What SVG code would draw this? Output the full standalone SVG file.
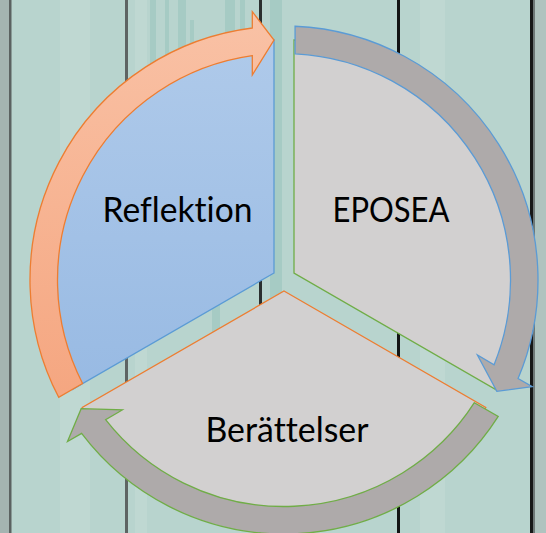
<svg xmlns="http://www.w3.org/2000/svg" width="546" height="533" viewBox="0 0 546 533">
  <defs>
    <linearGradient id="gBlue" x1="0" y1="40" x2="0" y2="390" gradientUnits="userSpaceOnUse">
      <stop offset="0" stop-color="#AFCAEA"/>
      <stop offset="1" stop-color="#98BAE3"/>
    </linearGradient>
    <linearGradient id="gOrange" x1="0" y1="10" x2="0" y2="400" gradientUnits="userSpaceOnUse">
      <stop offset="0" stop-color="#F9C2A6"/>
      <stop offset="1" stop-color="#F5A680"/>
    </linearGradient>
    <path id="arrowShape" d="M 82.55 383.5 L 58.7 397.3 A 254 254 0 0 1 252.3 28 L 252.3 11.7 L 274 40 L 252.3 75 L 252.3 55.7 A 226.5 226.5 0 0 0 82.55 383.5 Z"/>
  </defs>
  <style>
    .plank { fill: #B8D4CE; }
    .gap { fill: #2b2f2f; }
    .streak { fill: #6FAEA8; opacity: 0.25; }
    .lightstreak { fill: #D2E4E0; opacity: 0.25; }
    .sector { stroke-width: 1.3; stroke-linejoin: miter; }
    .arrow { stroke-width: 1.3; stroke-linejoin: miter; }
    .label { font-family: Lato, "Open Sans", "Liberation Sans", sans-serif; font-size: 34px; fill: #000000; text-anchor: middle; font-variant-ligatures: none; }
  </style>

  <g id="background">
    <rect x="0" y="0" width="546" height="533" class="plank"/>
    <rect x="0" y="0" width="9" height="533" fill="#A4B4B1"/>
    <rect x="533" y="0" width="13" height="533" fill="#AFC3BF"/>
    <rect x="135" y="0" width="12" height="533" class="lightstreak"/>
    <rect x="150" y="0" width="6" height="110" class="streak"/>
    <rect x="165" y="0" width="4" height="80" class="streak"/>
    <rect x="178" y="0" width="8" height="130" class="streak"/>
    <rect x="190" y="20" width="4" height="70" class="streak"/>
    <rect x="225" y="0" width="10" height="90" class="streak"/>
    <rect x="240" y="0" width="5" height="60" class="streak"/>
    <rect x="212" y="280" width="8" height="100" class="streak"/>
    <rect x="270" y="0" width="12" height="533" class="streak" opacity="0.15"/>
    <rect x="60" y="0" width="30" height="533" class="lightstreak"/>
    <rect x="420" y="0" width="25" height="533" class="lightstreak"/>
    <rect x="9" y="0" width="2.5" height="533" fill="#5b6261"/>
    <rect x="125" y="0" width="3" height="533" fill="#5e6463"/>
    <rect x="259" y="0" width="3" height="533" class="gap"/>
    <rect x="397" y="0" width="3" height="533" fill="#121414"/>
    <rect x="530" y="0" width="3" height="533" fill="#161818"/>
    <rect x="533" y="0" width="2" height="533" fill="#6d7877"/>
  </g>

  <g id="node-reflektion">
    <path class="sector" d="M 274 273 L 72.2 389.5 A 233 233 0 0 1 274 40 Z" fill="url(#gBlue)" stroke="#5B9BD5"/>
    <text class="label" x="177.5" y="222" textLength="150" lengthAdjust="spacingAndGlyphs">Reflektion</text>
  </g>
  <g id="node-eposea">
    <path class="sector" d="M 294 273 L 294 40 A 233 233 0 0 1 495.8 389.5 Z" fill="#D2D0D0" stroke="#70AD47"/>
    <text class="label" x="391" y="222" textLength="117" lengthAdjust="spacingAndGlyphs">EPOSEA</text>
  </g>
  <g id="node-berattelser">
    <path class="sector" d="M 284 291 L 485.8 407.5 A 233 233 0 0 1 82.2 407.5 Z" fill="#D2D0D0" stroke="#ED7D31"/>
    <text class="label" x="287" y="442" textLength="163" lengthAdjust="spacingAndGlyphs">Berättelser</text>
  </g>

  <g id="connectors">
    <use href="#arrowShape" class="arrow" fill="url(#gOrange)" stroke="#ED7D31"/>
    <use href="#arrowShape" class="arrow" fill="#AEAAAA" stroke="#5B9BD5" transform="rotate(120 284 280)"/>
    <use href="#arrowShape" class="arrow" fill="#AEAAAA" stroke="#70AD47" transform="rotate(240 284 280)"/>
  </g>
</svg>
